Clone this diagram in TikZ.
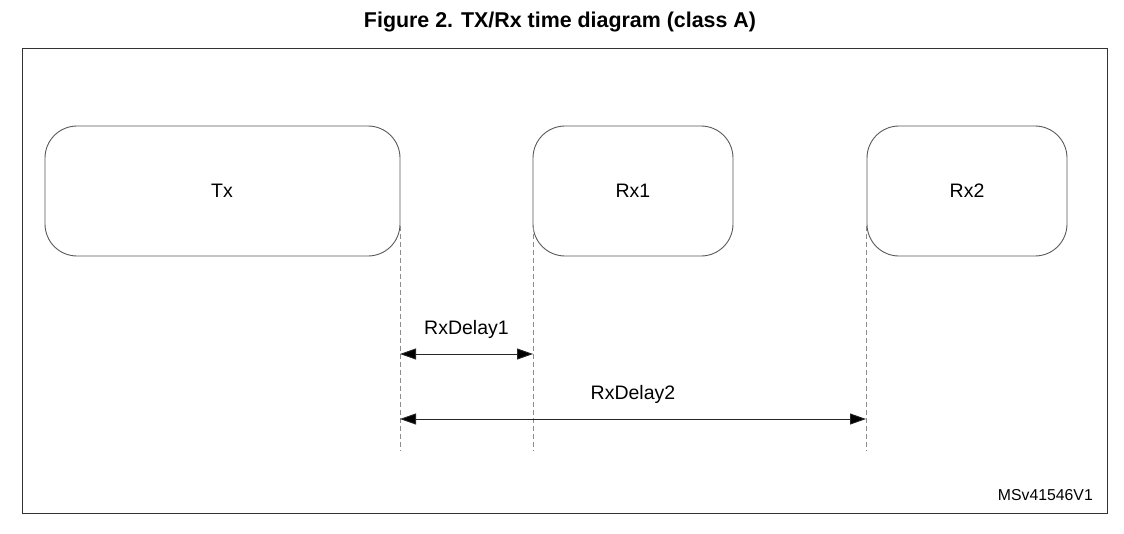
\documentclass[tikz,border=0pt]{standalone}
\usepackage{fontspec}
\setmainfont{Liberation Sans}
\usetikzlibrary{arrows.meta}
\begin{document}
\begin{tikzpicture}[x=1pt,y=-1pt,
  slot/.style={draw=black!65, line width=0.9pt, rounded corners=32pt},
  guide/.style={draw=black!45, line width=0.9pt, dash pattern=on 5pt off 3pt},
  span/.style={draw=black!85, line width=0.9pt, {Triangle[length=16pt,width=11pt,fill=black]}-{Triangle[length=16pt,width=11pt,fill=black]}},
  lbl/.style={font=\fontsize{19.5}{22}\selectfont, inner sep=0pt}]
  \useasboundingbox (0,0) rectangle (1124,533);
  % title and frame
  \node[font=\bfseries\fontsize{21.4}{25}\selectfont, inner sep=0pt] (title) at (560,22) {Figure 2. TX/Rx time diagram (class A)};
  \draw[black!80, line width=1pt] (22,48) rectangle (1107,513);
  % transmit / receive windows
  \draw[slot] (45,126) rectangle (400,256);
  \draw[slot] (533,126) rectangle (733,256);
  \draw[slot] (867,126) rectangle (1067,256);
  \node[lbl] (tx) at (222,191) {Tx};
  \node[lbl] (rx1) at (633,191) {Rx1};
  \node[lbl] (rx2) at (967,191) {Rx2};
  % timing guides
  \coordinate (g0t) at (400,226); \coordinate (g0b) at (400,451);
  \coordinate (g1t) at (533,226); \coordinate (g1b) at (533,451);
  \coordinate (g2t) at (866,226); \coordinate (g2b) at (866,451);
  \draw[guide] (g0t) -- (g0b);
  \draw[guide] (g1t) -- (g1b);
  \draw[guide] (g2t) -- (g2b);
  % delays
  \coordinate (d1a) at (400,354); \coordinate (d1b) at (533,354);
  \coordinate (d2a) at (400,419); \coordinate (d2b) at (866,419);
  \draw[span] (d1a) -- (d1b);
  \draw[span] (d2a) -- (d2b);
  \node[lbl] (rxd1) at (466.5,329) {RxDelay1};
  \node[lbl] (rxd2) at (633,394) {RxDelay2};
  \node[lbl, font=\fontsize{15.8}{18}\selectfont, anchor=east] (ref) at (1093,495) {MSv41546V1};
\end{tikzpicture}
\end{document}
